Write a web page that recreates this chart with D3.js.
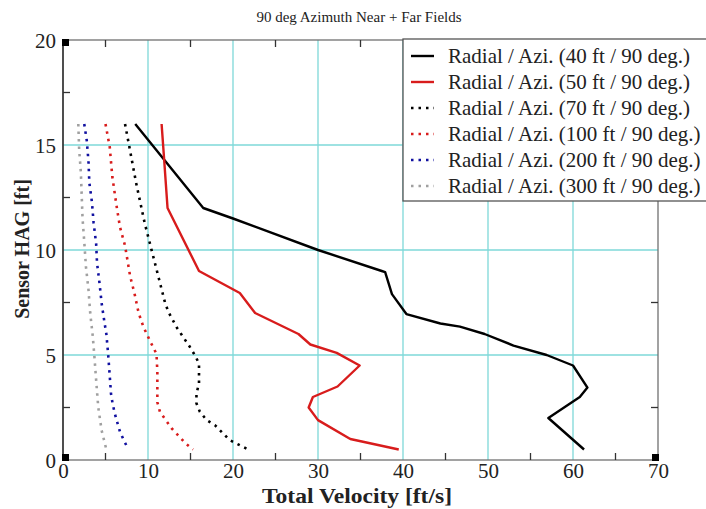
<!DOCTYPE html>
<html>
<head>
<meta charset="utf-8">
<script src="https://cdn.jsdelivr.net/npm/d3@7"></script>
<style>
  body { margin: 0; background: #fff; }
  text { font-family: "Liberation Serif", "DejaVu Serif", serif; }
</style>
</head>
<body>
<svg id="chart"></svg>
<script>
// Series values: [velocity ft/s, height ft]
const radial40 = [[8.5,16],[16.5,12],[20,11.5],[30,10],[37.5,9],[37.9,8.95],[38.7,7.9],[40.4,6.95],[44.4,6.5],[46.7,6.35],[49.6,6],[53,5.45],[56.9,5],[60,4.5],[61.7,3.45],[60.8,3],[57.1,2],[61.3,0.5]];
const radial50 = [[11.6,16],[11.9,14.3],[12.3,12],[16,9],[20.8,7.95],[22.6,7],[27.7,6],[29.1,5.5],[32.2,5.1],[34.9,4.5],[32.3,3.5],[29.4,3],[28.9,2.5],[30,1.9],[33.8,1],[39.5,0.5]];
const radial70 = [[7.3,16],[8.6,13.2],[9.6,11.3],[10.8,9.4],[12,7.5],[12.4,7.05],[13.4,6.3],[14.9,5.4],[15.5,5],[16,4.6],[16,3.65],[15.7,3.15],[15.7,2.7],[16.1,2.3],[16.9,1.9],[17.9,1.65],[19.6,0.95],[21.8,0.5]];
const radial100 = [[5,16],[5.5,14.9],[5.8,13.5],[6.3,12.1],[6.7,11.1],[7.3,10.2],[7.9,8.75],[8.4,7.95],[8.9,7],[9.45,6.35],[10.2,5.7],[11,5.05],[11.1,4.2],[11.1,2.75],[11.4,2.3],[12,1.95],[12.8,1.5],[14.4,0.8],[15.3,0.5]];
const radial200 = [[2.5,16],[2.8,15.2],[3,14.2],[3.1,13.2],[3.4,12.3],[3.6,11.3],[3.9,10.3],[4,9.4],[4.3,8.4],[4.55,7.45],[4.9,6.5],[5.1,6],[5.3,5.1],[5.5,4],[5.65,3.15],[5.85,2.65],[6.2,2.05],[6.7,1.35],[7.2,0.9],[7.7,0.5]];
const radial300 = [[1.8,16],[1.9,14.8],[2.1,13.7],[2.2,12.6],[2.3,11.5],[2.5,10.4],[2.7,9.2],[3,8.1],[3.2,7],[3.5,5.9],[3.7,4.9],[3.9,3.8],[4.15,2.5],[4.55,1.4],[5.1,0.5]];

const seriesNames = ['Radial / Azi. (40 ft / 90 deg.)', 'Radial / Azi. (50 ft / 90 deg.)', 'Radial / Azi. (70 ft / 90 deg.)',
  'Radial / Azi. (100 ft / 90 deg.)', 'Radial / Azi. (200 ft / 90 deg.)', 'Radial / Azi. (300 ft / 90 deg.)'];
const seriesData = [radial40, radial50, radial70, radial100, radial200, radial300];
const seriesColors = ['#000000', '#d81c1c', '#000000', '#d81c1c', '#1010a0', '#a0a0a0'];
const seriesDotted = [false, false, true, true, true, true];

const xTicks = [0, 10, 20, 30, 40, 50, 60, 70];
const yTicks = [0, 5, 10, 15, 20];
const xMinor = [5, 15, 25, 35, 45, 55, 65];
const yMinor = [2.5, 7.5, 12.5, 17.5];

const W = 706, H = 509;
const margin = {top: 40, right: 48, bottom: 49, left: 63};
const width = W - margin.left - margin.right;
const height = H - margin.top - margin.bottom;

const svg = d3.select('#chart').attr('width', W).attr('height', H);
const g = svg.append('g').attr('transform', `translate(${margin.left},${margin.top})`);

const x = d3.scaleLinear().domain([0, 70]).range([0, width]);
const y = d3.scaleLinear().domain([0, 20]).range([height, 0]);

// Grid lines
g.append('g').selectAll('line').data(xTicks.slice(1, -1)).join('line')
    .attr('x1', d => x(d)).attr('x2', d => x(d))
    .attr('y1', 0).attr('y2', height)
    .attr('stroke', '#7ed8d8').attr('stroke-width', 1.3);
g.append('g').selectAll('line').data(yTicks.slice(1, -1)).join('line')
    .attr('y1', d => y(d)).attr('y2', d => y(d))
    .attr('x1', 0).attr('x2', width)
    .attr('stroke', '#7ed8d8').attr('stroke-width', 1.3);

// Frame
g.append('rect').attr('width', width).attr('height', height)
    .attr('fill', 'none').attr('stroke', '#707070').attr('stroke-width', 1.3);
g.append('line').attr('x1', 0).attr('x2', 0).attr('y1', 0).attr('y2', height)
    .attr('stroke', '#222').attr('stroke-width', 1.3);

// Axes (inward ticks)
const xAxis = d3.axisBottom(x).tickValues(xTicks).tickSize(0).tickPadding(1);
const yAxis = d3.axisLeft(y).tickValues(yTicks).tickSize(0).tickPadding(7);
const xAxisG = g.append('g').attr('transform', `translate(0,${height})`).call(xAxis);
const yAxisG = g.append('g').call(yAxis);
[xAxisG, yAxisG].forEach(a => {
  a.select('.domain').remove();
  a.selectAll('text').attr('font-family', '"Liberation Serif", serif').attr('font-size', 21).attr('fill', '#222');
});
xAxisG.selectAll('text').attr('dy', '0.82em');
yAxisG.selectAll('text').attr('dy', '0.35em');

// Minor tick marks on all four sides
const tk = 7;
g.append('g').selectAll('line').data(xMinor).join('line')
    .attr('x1', d => x(d)).attr('x2', d => x(d)).attr('y1', height).attr('y2', height - tk)
    .attr('stroke', '#333').attr('stroke-width', 1.3);
g.append('g').selectAll('line').data(xMinor).join('line')
    .attr('x1', d => x(d)).attr('x2', d => x(d)).attr('y1', 0).attr('y2', tk)
    .attr('stroke', '#333').attr('stroke-width', 1.3);
g.append('g').selectAll('line').data(yMinor).join('line')
    .attr('y1', d => y(d)).attr('y2', d => y(d)).attr('x1', 0).attr('x2', tk)
    .attr('stroke', '#333').attr('stroke-width', 1.3);
g.append('g').selectAll('line').data(yMinor).join('line')
    .attr('y1', d => y(d)).attr('y2', d => y(d)).attr('x1', width).attr('x2', width - tk)
    .attr('stroke', '#333').attr('stroke-width', 1.3);

// Corner markers
const corners = [[0, 0], [0, 20], [70, 0], [70, 20]];
g.append('g').selectAll('rect').data(corners).join('rect')
    .attr('x', d => x(d[0]) - (d[0] === 0 ? 1 : 6))
    .attr('y', d => y(d[1]) - (d[1] === 0 ? 6 : 1))
    .attr('width', 7).attr('height', 7).attr('fill', '#000');

// Series lines
const line = d3.line().x(d => x(d[0])).y(d => y(d[1]));
g.append('g').selectAll('path').data(seriesData).join('path')
    .attr('d', line)
    .attr('fill', 'none')
    .attr('stroke', (d, i) => seriesColors[i])
    .attr('stroke-width', (d, i) => seriesDotted[i] ? 2.6 : 2.4)
    .attr('stroke-dasharray', (d, i) => seriesDotted[i] ? '2.5,5' : null)
    .attr('stroke-linejoin', 'round');

// Legend
const legend = svg.append('g').attr('transform', 'translate(403,39)');
legend.append('rect').attr('width', 310).attr('height', 162)
    .attr('fill', '#fff').attr('stroke', '#555').attr('stroke-width', 1.3);
const rows = legend.selectAll('g.row').data(seriesNames).join('g')
    .attr('class', 'row')
    .attr('transform', (d, i) => `translate(0,${17 + i * 26})`);
rows.append('line').attr('x1', 8).attr('x2', 31).attr('y1', 0).attr('y2', 0)
    .attr('stroke', (d, i) => seriesColors[i])
    .attr('stroke-width', (d, i) => seriesDotted[i] ? 2.6 : 2.4)
    .attr('stroke-dasharray', (d, i) => seriesDotted[i] ? '2.5,5' : null);
rows.append('text').attr('x', 45).attr('y', 0).attr('dy', '0.33em')
    .attr('font-size', 21).attr('fill', '#222').text(d => d);

// Title and axis labels
svg.append('text').attr('x', 359).attr('y', 22).attr('text-anchor', 'middle')
    .attr('font-size', 15).attr('fill', '#222').text('90 deg Azimuth Near + Far Fields');
svg.append('text').attr('x', 357).attr('y', 503).attr('text-anchor', 'middle')
    .attr('font-size', 20).attr('font-weight', 'bold').attr('fill', '#222')
    .attr('textLength', 190).attr('lengthAdjust', 'spacingAndGlyphs')
    .text('Total Velocity [ft/s]');
svg.append('text').attr('transform', `translate(29,${margin.top + height / 2 - 1}) rotate(-90)`)
    .attr('text-anchor', 'middle').attr('font-size', 20).attr('font-weight', 'bold').attr('fill', '#222')
    .text('Sensor HAG [ft]');
</script>
</body>
</html>
